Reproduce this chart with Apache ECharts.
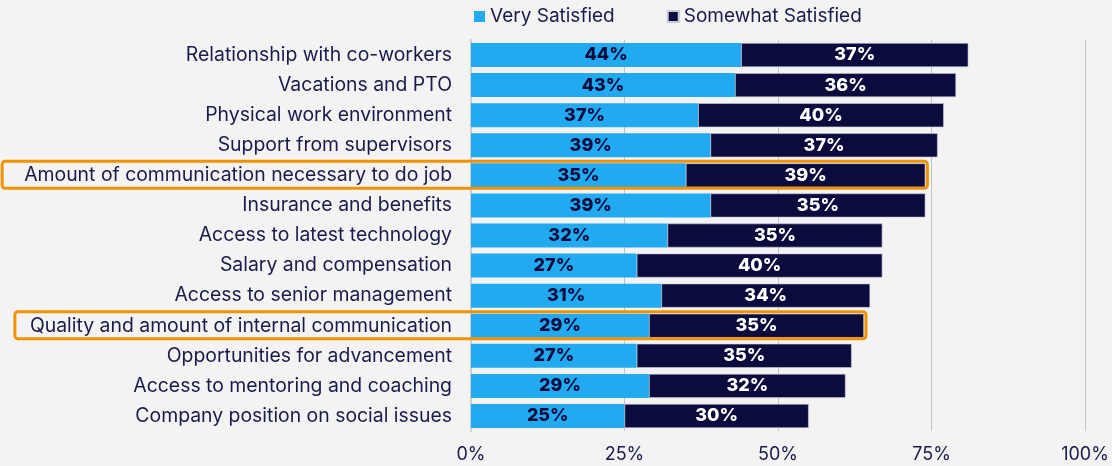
<!DOCTYPE html>
<html>
<head>
<meta charset="utf-8">
<script src="https://cdn.jsdelivr.net/npm/echarts@6/dist/echarts.min.js"></script>
<style>
  html, body { margin: 0; padding: 0; background: #f3f3f3; }
  #chart { width: 1112px; height: 466px; }
</style>
</head>
<body>
<div id="chart"></div>
<script>
  var categories = [
    'Relationship with co-workers',
    'Vacations and PTO',
    'Physical work environment',
    'Support from supervisors',
    'Amount of communication necessary to do job',
    'Insurance and benefits',
    'Access to latest technology',
    'Salary and compensation',
    'Access to senior management',
    'Quality and amount of internal communication',
    'Opportunities for advancement',
    'Access to mentoring and coaching',
    'Company position on social issues'
  ];
  var verySatisfied = [44, 43, 37, 39, 35, 39, 32, 27, 31, 29, 27, 29, 25];
  var somewhatSatisfied = [37, 36, 40, 37, 39, 35, 35, 40, 34, 35, 35, 32, 30];
  var highlighted = [
    'Amount of communication necessary to do job',
    'Quality and amount of internal communication'
  ];
  var highlightPad = [22, 15];

  var FONT = 'Inter, "Noto Sans", sans-serif';
  var NAVY = '#0b0b3d';
  var BLUE = '#22aaf1';
  var TEXT = '#1b1b4b';
  var CAT_SIZE = 19.4;

  var myChart = echarts.init(document.getElementById('chart'));
  var option = {
    backgroundColor: '#f3f3f3',
    textStyle: { fontFamily: FONT },
    legend: {
      top: 2,
      left: 469,
      icon: 'rect',
      itemWidth: 11,
      itemHeight: 11,
      itemGap: 52,
      textStyle: { fontSize: 19, color: TEXT, fontFamily: FONT },
      data: ['Very Satisfied', 'Somewhat Satisfied']
    },
    grid: { left: 471, right: 27, top: 40, bottom: 35 },
    xAxis: {
      type: 'value',
      min: 0,
      max: 100,
      interval: 25,
      axisLabel: {
        formatter: '{value}%',
        fontSize: 18,
        color: TEXT,
        fontFamily: FONT,
        margin: 15
      },
      axisLine: { show: false },
      axisTick: { show: false },
      splitLine: { lineStyle: { color: '#c4c4c4', width: 1 } }
    },
    yAxis: {
      type: 'category',
      inverse: true,
      data: categories,
      axisTick: { show: false },
      axisLine: { show: true, lineStyle: { color: '#cfcfcf', width: 2 } },
      axisLabel: { fontSize: CAT_SIZE, color: TEXT, fontFamily: FONT, margin: 19 }
    },
    series: [
      {
        name: 'Very Satisfied',
        type: 'bar',
        stack: 'total',
        barWidth: 24,
        itemStyle: { color: BLUE },
        label: {
          show: true,
          position: 'inside',
          formatter: '{c}%',
          color: NAVY,
          fontWeight: 800,
          fontSize: 18,
          fontFamily: FONT
        },
        data: verySatisfied
      },
      {
        name: 'Somewhat Satisfied',
        type: 'bar',
        stack: 'total',
        barWidth: 24,
        itemStyle: { color: NAVY, borderColor: '#c9c9d6', borderWidth: 0.6 },
        label: {
          show: true,
          position: 'inside',
          formatter: '{c}%',
          color: '#ffffff',
          fontWeight: 800,
          fontSize: 18,
          fontFamily: FONT
        },
        data: somewhatSatisfied
      }
    ]
  };
  myChart.setOption(option, true);

  // orange highlight boxes around selected rows
  var ctx = document.createElement('canvas').getContext('2d');
  ctx.font = CAT_SIZE + 'px ' + FONT;
  var boxes = highlighted.map(function (name, k) {
    var i = categories.indexOf(name);
    var yc = myChart.convertToPixel({ yAxisIndex: 0 }, i);
    var xr = myChart.convertToPixel({ xAxisIndex: 0 }, verySatisfied[i] + somewhatSatisfied[i]);
    var textW = ctx.measureText(name).width;
    var xl = Math.max(2, 471 - 19 - textW - highlightPad[k]);
    return {
      type: 'rect',
      shape: { x: xl, y: yc - 14, width: xr + 2 - xl, height: 27, r: 3 },
      style: { fill: 'none', stroke: '#f39200', lineWidth: 3 },
      z: 100
    };
  });
  myChart.setOption({ graphic: boxes });
</script>
</body>
</html>
